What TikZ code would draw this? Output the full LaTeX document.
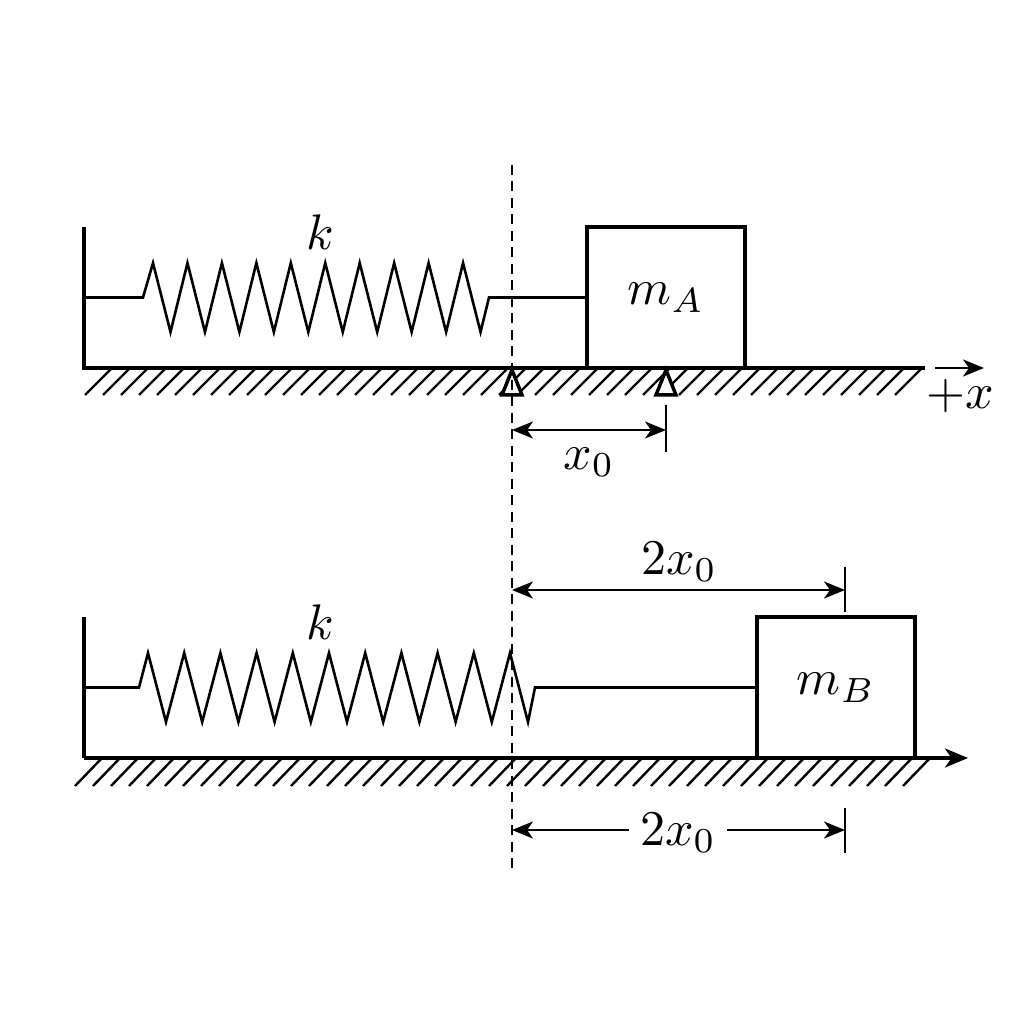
\documentclass[tikz,border=0pt]{standalone}
\usetikzlibrary{arrows.meta}
\begin{document}
\begin{tikzpicture}[x=0.2pt,y=-0.2pt,
  heavy/.style={line width=0.72pt},
  lite/.style={line width=0.52pt, line join=miter},
  hatch/.style={line width=0.48pt},
  blockbox/.style={draw, line width=0.72pt, minimum width=31.6pt, minimum height=28.2pt, inner sep=0pt, outer sep=0pt},
  dimarrow/.style={line width=0.45pt, {Stealth[length=4.2pt,width=3.4pt,inset=1.2pt]}-{Stealth[length=4.2pt,width=3.4pt,inset=1.2pt]}},
  onearrow/.style={line width=0.55pt, -{Stealth[length=4.2pt,width=3.4pt,inset=1.2pt]}},
  tickline/.style={line width=0.45pt},
  support/.style={draw, line width=0.7pt, fill=white, line join=miter},
  refline/.style={line width=0.45pt, dash pattern=on 2pt off 1.3pt},
  lbl/.style={inner sep=0pt}
]
\useasboundingbox (0,0) rectangle (1024,1024);

% ---------------- top system ----------------
\coordinate (wallAtop) at (84,227);
\coordinate (wallAbot) at (84,368);
\coordinate (gndAend) at (925,368);
\foreach \i in {0,...,45} {
  \draw[hatch] ({85+18*\i},395) -- ({112+18*\i},368);
}
\draw[heavy] (wallAtop) -- (wallAbot) -- (gndAend);
\node[blockbox] (mA) at (666,297.5) {};
\node[lbl] (mAlbl) at (mA.center) {$m_A$};
\draw[lite] (84,297.5) -- (143,297.5)
  \foreach \i in {0,...,9} { -- ({153+34.45*\i},263) -- ({170.5+34.45*\i},332) }
  -- (489,297.5) -- (mA.west);
\node[lbl] (kA) at (320,232) {$k$};
\coordinate (xarrS) at (935,368);
\coordinate (xarrE) at (984,368);
\draw[onearrow] (xarrS) -- (xarrE);
\node[lbl] (xlbl) at (960,396) {$+x$};

% supports (triangles)
\draw[support] (512,370) -- (502,395) -- (522,395) -- cycle;
\draw[support] (666,370) -- (656,395) -- (676,395) -- cycle;

% x0 dimension
\coordinate (x0tickT) at (666,405);
\coordinate (x0tickB) at (666,452);
\draw[tickline] (x0tickT) -- (x0tickB);
\coordinate (x0L) at (512,430);
\coordinate (x0R) at (666,430);
\draw[dimarrow] (x0L) -- (x0R);
\node[lbl] (x0lbl) at (589,462) {$x_0$};

% ---------------- bottom system ----------------
\coordinate (wallBtop) at (84,617);
\coordinate (wallBbot) at (84,758);
\coordinate (gndBend) at (968,758);
\foreach \i in {0,...,46} {
  \draw[hatch] ({75+18*\i},786) -- ({102+18*\i},758);
}
\draw[heavy] (wallBtop) -- (wallBbot);
\draw[heavy, -{Stealth[length=4.6pt,width=3.8pt,inset=1.3pt]}] (wallBbot) -- (gndBend);
\node[blockbox] (mB) at (836,687.5) {};
\node[lbl] (mBlbl) at (mB.center) {$m_B$};
\draw[lite] (84,687.5) -- (139,687.5)
  \foreach \i in {0,...,10} { -- ({148+36.2*\i},653) -- ({166+36.2*\i},722) }
  -- (535,687.5) -- (mB.west);
\node[lbl] (kB) at (320,622) {$k$};

% upper 2x0 dimension
\coordinate (d1tickT) at (845,567);
\coordinate (d1tickB) at (845,612);
\draw[tickline] (d1tickT) -- (d1tickB);
\coordinate (d1L) at (512,590);
\coordinate (d1R) at (845,590);
\draw[dimarrow] (d1L) -- (d1R);
\node[lbl] (d1lbl) at (679,562) {$2x_0$};

% lower 2x0 dimension
\coordinate (d2tickT) at (845,808);
\coordinate (d2tickB) at (845,853);
\draw[tickline] (d2tickT) -- (d2tickB);
\coordinate (d2L) at (512,830);
\coordinate (d2R) at (845,830);
\draw[dimarrow] (d2L) -- (d2R);
\node[fill=white, inner sep=2.2pt] (d2lbl) at (678,833) {$2x_0$};

% reference dashed line
\coordinate (refT) at (512,165);
\coordinate (refB) at (512,870);
\draw[refline] (refT) -- (refB);
\end{tikzpicture}
\end{document}
